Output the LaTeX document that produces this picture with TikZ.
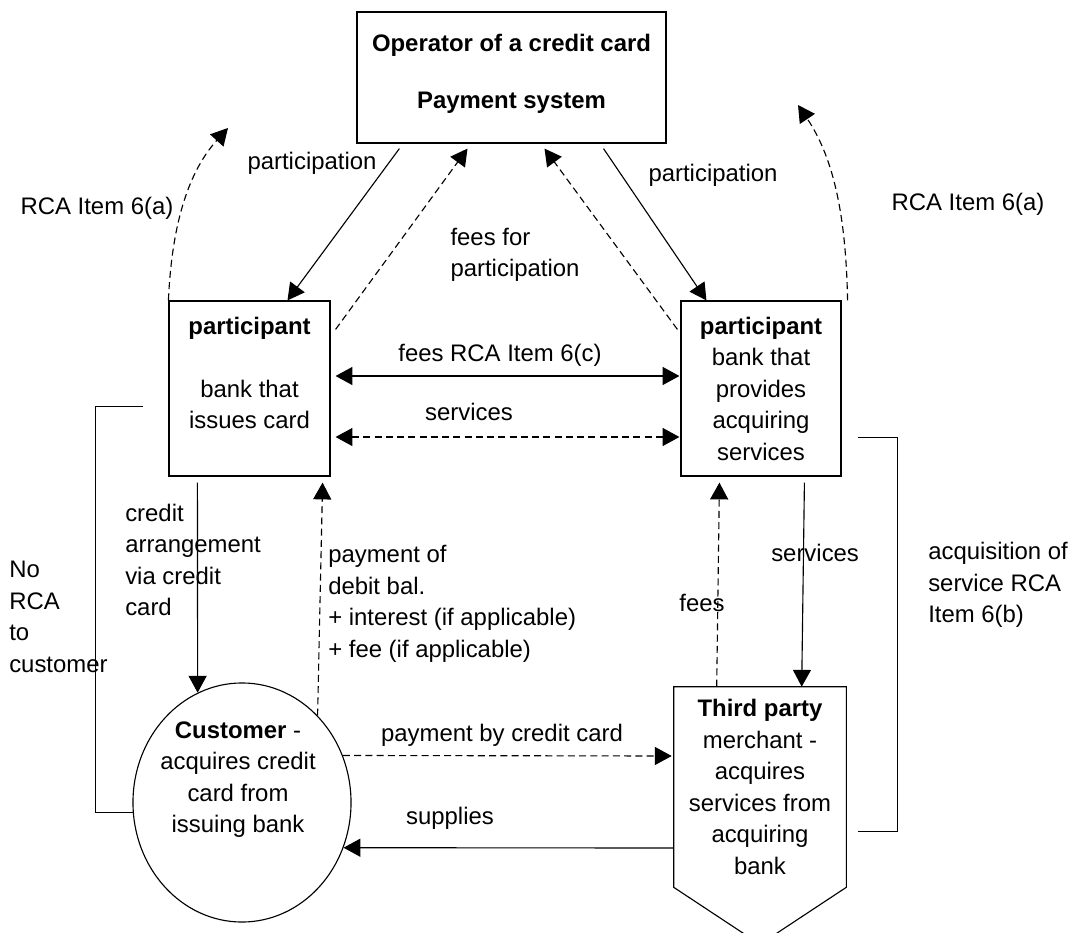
\documentclass[tikz,border=0pt]{standalone}
\usepackage{fontspec}
\setmainfont{Liberation Sans}
\usetikzlibrary{arrows.meta,shapes.geometric,calc}

\begin{document}
\begin{tikzpicture}[x=0.025cm,y=-0.025cm,
  every node/.style={font=\fontsize{17}{22.4}\selectfont},
  >={Triangle[length=0.42cm,width=0.45cm]},
  box/.style={draw,line width=0.8pt,inner sep=0pt,align=center},
  lbl/.style={align=left,inner sep=0pt},
  arr/.style={line width=0.8pt,->},
  dsh/.style={arr,dash pattern=on 5pt off 3pt},
  bracket/.style={line width=0.7pt}]
\clip (0,0) rectangle (1072,933);
\node[box,minimum width=7.725cm,minimum height=3.275cm] (operator) at (511.5,77.5) {};
\node[align=center,inner sep=0pt,font=\fontsize{17}{22.4}\selectfont\bfseries] (operator-txt) at (511.5,74) {Operator of a credit card\\[18pt]Payment system};
\node[box,minimum width=4.025cm,minimum height=4.375cm] (issuer) at (249.5,388.5) {\textbf{participant}\\\mbox{}\\bank that\\issues card\\\mbox{}};
\node[box,minimum width=4cm,minimum height=4.375cm] (acquirer) at (761,388.5) {\textbf{participant}\\bank that\\provides\\acquiring\\services};
\node[box,ellipse,minimum width=5.45cm,minimum height=5.975cm] (customer) at (242,802.5) {};
\node[align=center,inner sep=0pt] (customer-txt) at (238,779.5) {\textbf{Customer} -\\acquires credit\\card from\\issuing bank};
\node[align=center,inner sep=0pt,minimum width=4.3cm,minimum height=5cm] (merchant) at (760,787) {\textbf{Third party}\\merchant -\\acquires\\services from\\acquiring\\bank};
\draw[line width=0.8pt] (merchant.south west) -- (merchant.north west) -- (merchant.north east) -- (merchant.south east) -- ($(merchant.south)+(0,57)$) -- cycle;
\node[lbl] (part-l) at (312,163) {participation};
\node[lbl] (part-r) at (713,175) {participation};
\node[lbl] (rca-l) at (97,208) {RCA Item 6(a)};
\node[lbl] (rca-r) at (968,204) {RCA Item 6(a)};
\node[lbl] (fees-part) at (515,255) {fees for\\participation};
\node[lbl] (fees-c) at (500,355) {fees RCA Item 6(c)};
\node[lbl] (serv-top) at (469,412) {services};
\node[lbl,anchor=west] (credit-arr) at (125,560) {credit\\arrangement\\via credit\\card};
\node[lbl,anchor=west] (pay-debit) at (328,604) {payment of\\debit bal.\\+ interest (if applicable)\\+ fee (if applicable)};
\node[lbl,anchor=west] (no-rca) at (9,617) {No\\RCA\\to\\customer};
\node[lbl,anchor=west] (serv-r) at (771,553) {services};
\node[lbl] (fees-r) at (702,603) {fees};
\node[lbl,anchor=west] (acq-rca) at (928,585) {acquisition of\\service RCA\\Item 6(b)};
\node[lbl] (pay-cc) at (502,735) {payment by credit card};
\node[lbl] (supplies) at (450,818) {supplies};
\coordinate (rca-l-tip) at (228,128);
\coordinate (rca-r-tip) at (798,105);
\coordinate (no-rca-top) at (143,406);
\coordinate (acq-top) at (858,437);
\coordinate (acq-bot) at (858,831);
\draw[arr] ($(operator.south west)+(43,5)$) -- ($(issuer.north)+(38,0)$);
\draw[dsh] ($(issuer.north east)+(5,29)$) -- ($(operator.south)+(-44,5)$);
\draw[dsh] ($(acquirer.north west)+(-3,29)$) -- ($(operator.south)+(33,5)$);
\draw[arr] ($(operator.south)+(92,5)$) -- ($(acquirer.north west)+(26,0)$);
\draw[dsh] (issuer.north west) .. controls (172,220) and (190,170) .. (rca-l-tip);
\draw[dsh] ($(acquirer.north east)+(6,0)$) .. controls (846,220) and (835,160) .. (rca-r-tip);
\draw[arr,<->] ($(issuer.east)+(5,-12.5)$) -- ($(acquirer.west)+(-1,-12.5)$);
\draw[dsh,<->] ($(issuer.east)+(5,48.5)$) -- ($(acquirer.west)+(-1,48.5)$);
\draw[arr] ($(issuer.south west)+(29,6)$) -- (customer.112);
\draw[dsh] (customer.49) -- ($(issuer.south east)+(-8,6)$);
\draw[dsh] (customer.25) -- ($(merchant.west)+(-2,-31)$);
\draw[arr] ($(merchant.west)+(0,61)$) -- (customer.-24);
\draw[dsh] ($(merchant.north west)+(43,0)$) -- ($(acquirer.south west)+(39,6)$);
\draw[arr] ($(acquirer.south west)+(124,6)$) -- ($(merchant.north west)+(128,0)$);
\draw[bracket] (no-rca-top) -- ++(-48,0) |- (customer.185);
\draw[bracket] (acq-top) -- ++(39,0) |- (acq-bot);
\end{tikzpicture}
\end{document}
